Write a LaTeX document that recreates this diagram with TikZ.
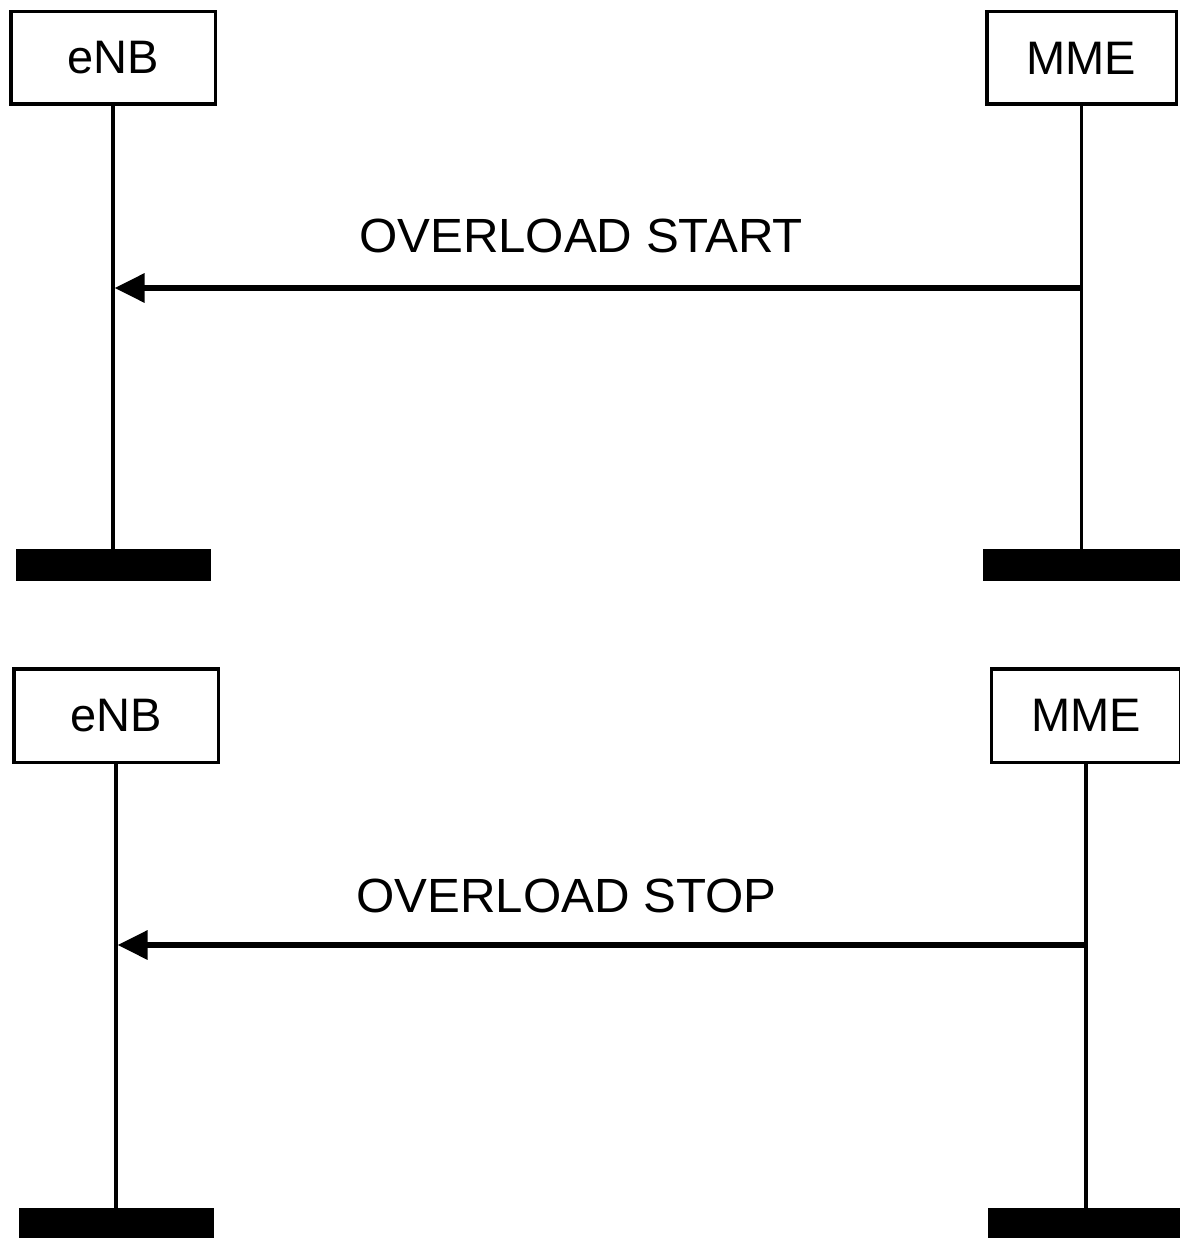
\documentclass[tikz,border=0pt]{standalone}
\usepackage{fontspec}
\setmainfont{Liberation Sans}
\usetikzlibrary{arrows.meta}
\begin{document}
\begin{tikzpicture}[x=1pt,y=-1pt,
  entity/.style={draw, line width=3.5pt, minimum height=92.5pt, inner sep=0pt,
                 font=\fontsize{47}{50}\selectfont},
  lifeline/.style={line width=3.5pt},
  endbar/.style={fill=black, draw=none},
  msg/.style={line width=6pt, -{Triangle[length=30pt,width=28pt]}, shorten >=1.5pt},
  msglabel/.style={anchor=base, inner sep=0pt, xscale=1.025, font=\fontsize{48}{50}\selectfont}]
\useasboundingbox (0,0) rectangle (1179,1238);
% ---------- top diagram ----------
\node[entity, minimum width=204.5pt] (enb1) at (113,58) {eNB};
\node[entity, minimum width=189.5pt] (mme1) at (1081.5,58) {MME};
\fill[endbar] (16,549) rectangle (211,581);
\fill[endbar] (983,549) rectangle (1182,581);
\coordinate (enb1end) at (enb1.south |- {0,549});
\coordinate (mme1end) at (mme1.south |- {0,549});
\draw[lifeline] (enb1.south) -- (enb1end);
\draw[lifeline] (mme1.south) -- (mme1end);
\coordinate (m1from) at (mme1.south |- {0,288});
\coordinate (m1to) at (enb1.south |- {0,288});
\draw[msg] (m1from) -- (m1to);
\node[msglabel] (l1) at (581,253) {OVERLOAD START};
% ---------- bottom diagram ----------
\node[entity, minimum width=204.5pt, minimum height=93.5pt] (enb2) at (116,715.5) {eNB};
\node[entity, minimum width=189.5pt, minimum height=93.5pt] (mme2) at (1086,715.5) {MME};
\fill[endbar] (19,1208) rectangle (214,1242);
\fill[endbar] (988,1208) rectangle (1184,1242);
\coordinate (enb2end) at (enb2.south |- {0,1208});
\coordinate (mme2end) at (mme2.south |- {0,1208});
\draw[lifeline] (enb2.south) -- (enb2end);
\draw[lifeline] (mme2.south) -- (mme2end);
\coordinate (m2from) at (mme2.south |- {0,945});
\coordinate (m2to) at (enb2.south |- {0,945});
\draw[msg] (m2from) -- (m2to);
\node[msglabel] (l2) at (566.5,912) {OVERLOAD STOP};
\end{tikzpicture}
\end{document}
